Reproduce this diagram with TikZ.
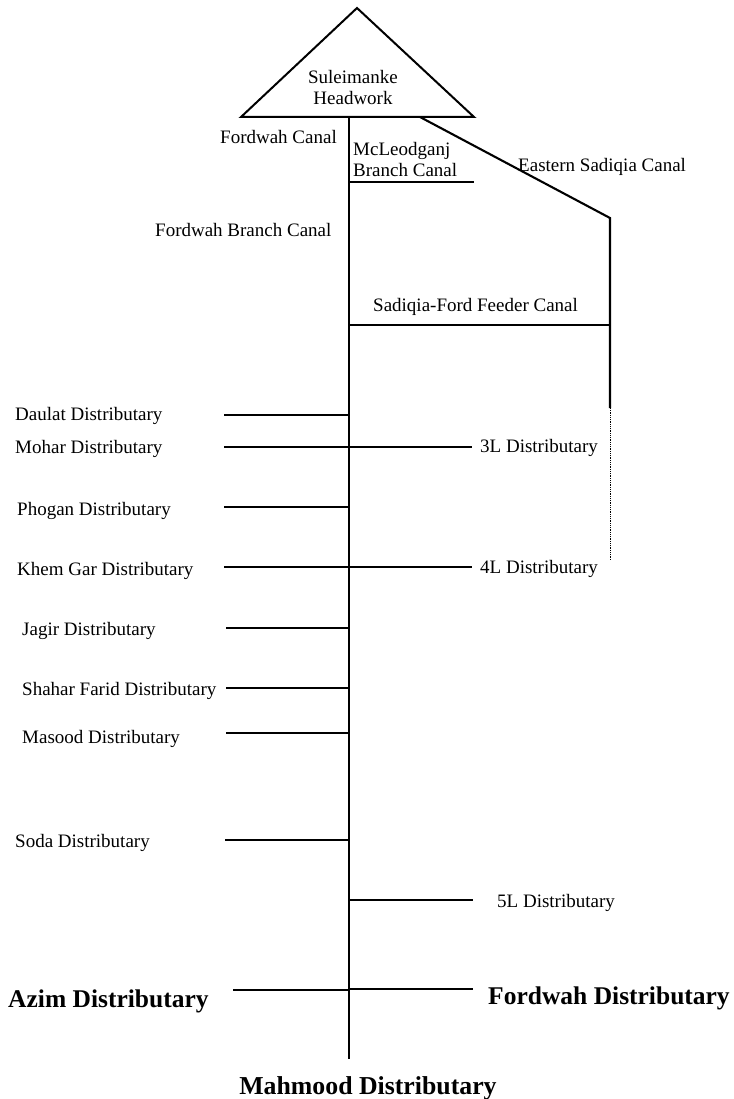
\documentclass[tikz,border=0pt]{standalone}
\usepackage{fontspec}
\setmainfont{Liberation Serif}
\begin{document}
\begin{tikzpicture}[x=1pt,y=-1pt,
  lbl/.style={inner sep=0pt,font=\fontsize{19}{21}\selectfont},
  big/.style={inner sep=0pt},
  canal/.style={line width=2.1pt},
  trunk/.style={line width=2.3pt},
  faint/.style={line width=0.8pt,densely dotted}]
\path[use as bounding box,fill=white] (0,0) rectangle (733,1099);
% headwork
\coordinate (apex) at (357,8);
\coordinate (bl) at (241,117);
\coordinate (br) at (474,117);
\draw[line width=2pt,line join=miter] (apex) -- (br) -- (bl) -- cycle;
\node[lbl,align=center] (head) at (353,88) {Suleimanke\\Headwork};
% trunk
\coordinate (mt) at (349,117);
\coordinate (mb) at (349,1059);
\draw[trunk] (mt) -- (mb);
% McLeodganj
\coordinate (mc0) at (349,182);
\coordinate (mc1) at (474,182);
\draw[canal] (mc0) -- (mc1);
% Eastern Sadiqia
\coordinate (es0) at (420,117);
\coordinate (es1) at (610,218);
\coordinate (es2) at (610,408);
\coordinate (es3) at (610,560);
\draw[canal,line join=miter] (es0) -- (es1) -- (es2);
\draw[faint] (es2) -- (es3);
% feeder
\coordinate (fd0) at (349,325);
\coordinate (fd1) at (610,325);
\draw[canal] (fd0) -- (fd1);
% distributaries
\coordinate (d0) at (224,415); \coordinate (d1) at (349,415);
\draw[canal] (d0) -- (d1);
\coordinate (m0) at (224,447); \coordinate (m1) at (472,447);
\draw[canal] (m0) -- (m1);
\coordinate (p0) at (224,507); \coordinate (p1) at (349,507);
\draw[canal] (p0) -- (p1);
\coordinate (k0) at (224,567); \coordinate (k1) at (472,567);
\draw[canal] (k0) -- (k1);
\coordinate (j0) at (226,628); \coordinate (j1) at (349,628);
\draw[canal] (j0) -- (j1);
\coordinate (s0) at (226,688); \coordinate (s1) at (349,688);
\draw[canal] (s0) -- (s1);
\coordinate (ms0) at (226,733); \coordinate (ms1) at (349,733);
\draw[canal] (ms0) -- (ms1);
\coordinate (so0) at (225,840); \coordinate (so1) at (349,840);
\draw[canal] (so0) -- (so1);
\coordinate (f0) at (349,900); \coordinate (f1) at (473,900);
\draw[canal] (f0) -- (f1);
\coordinate (a0) at (233,990); \coordinate (a1) at (349,990);
\draw[canal] (a0) -- (a1);
\coordinate (fw0) at (349,989); \coordinate (fw1) at (473,989);
\draw[canal] (fw0) -- (fw1);
% labels
\node[lbl,anchor=east] (fc) at (337,137) {Fordwah Canal};
\node[lbl,anchor=west,align=left] (mcl) at (353,160) {McLeodganj\\Branch Canal};
\node[lbl,anchor=west] (esl) at (518,167) {Eastern Sadiqia Canal};
\node[lbl,anchor=west] (fbc) at (155,230) {Fordwah Branch Canal};
\node[lbl,anchor=west] (sfc) at (373,307) {Sadiqia-Ford Feeder Canal};
\node[lbl,anchor=west] (dl) at (15,416) {Daulat Distributary};
\node[lbl,anchor=west] (ml) at (15,449) {Mohar Distributary};
\node[lbl,anchor=west] (l3) at (480,448) {3L Distributary};
\node[lbl,anchor=west] (pl) at (17,511) {Phogan Distributary};
\node[lbl,anchor=west] (kl) at (17,571) {Khem Gar Distributary};
\node[lbl,anchor=west] (l4) at (480,569) {4L Distributary};
\node[lbl,anchor=west] (jl) at (22,631) {Jagir Distributary};
\node[lbl,anchor=west] (sl) at (22,691) {Shahar Farid Distributary};
\node[lbl,anchor=west] (msl) at (22,739) {Masood Distributary};
\node[lbl,anchor=west] (sol) at (15,843) {Soda Distributary};
\node[lbl,anchor=west] (l5) at (497,903) {5L Distributary};
\node[big,anchor=west,font=\fontsize{25.5}{28}\selectfont\bfseries] (al) at (8,1001) {Azim Distributary};
\node[big,anchor=west,font=\fontsize{25.5}{28}\selectfont\bfseries] (fwl) at (488,998) {Fordwah Distributary};
\node[big,font=\fontsize{25.8}{28}\selectfont\bfseries] (mhl) at (368,1088) {Mahmood Distributary};
\end{tikzpicture}
\end{document}
